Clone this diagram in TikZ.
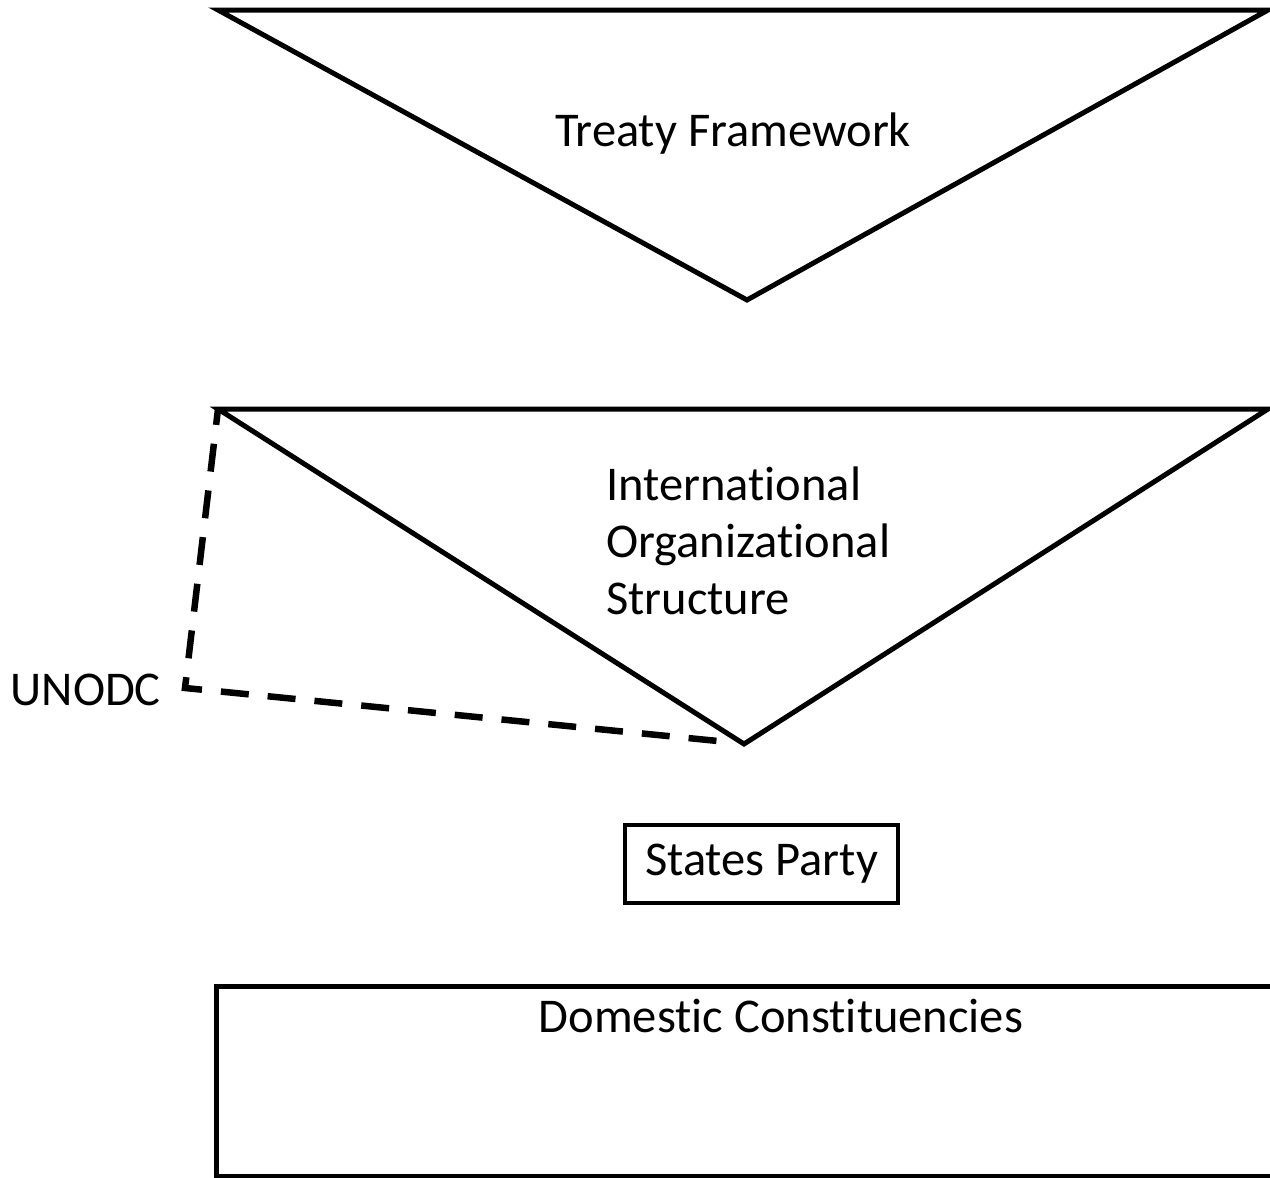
\documentclass[tikz,border=0pt]{standalone}
\usepackage{fontspec}
\setmainfont[Ligatures={NoCommon,NoRequired,NoContextual,NoRare,NoDiscretionary}]{Carlito}
\begin{document}
\begin{tikzpicture}[x=1pt,y=-1pt,
  shapeline/.style={draw=black,line width=5pt,line join=miter},
  dashline/.style={draw=black,line width=6.5pt,dash pattern=on 28pt off 19pt},
  label/.style={font=\fontsize{48.5}{57}\selectfont,inner sep=0pt}]
\useasboundingbox (0,0) rectangle (1270,1178);
\clip (0,0) rectangle (1270,1178);
% top triangle
\coordinate (t1l) at (218,10);
\coordinate (t1r) at (1268,10);
\coordinate (t1b) at (747,300);
\draw[shapeline] (t1l) -- (t1r) -- (t1b) -- cycle;
\node[label] (treaty) at (733,134) {Treaty Framework};
% second triangle
\coordinate (t2l) at (218,409);
\coordinate (t2r) at (1268,409);
\coordinate (t2b) at (744,744);
\draw[shapeline] (t2l) -- (t2r) -- (t2b) -- cycle;
\node[label,align=left,anchor=west] (ios) at (606,541) {Internat\kern0pt ional\\Organizat\kern0pt ional\\Structure};
% UNODC dashed bracket
\coordinate (uc) at (185,688);
\coordinate (ue) at (728,742);
\draw[dashline,dash phase=12pt] (t2l) -- (uc) -- (ue);
\node[label,anchor=east] (unodc) at (161,690) {UNODC};
% States Party
\node[label,draw=black,line width=4pt,minimum width=273pt,minimum height=78pt] (states) at (761.5,864) {States Party};
% Domestic Constituencies
\draw[shapeline] (216,986) rectangle (1300,1176);
\node[label] (dom) at (781,1016) {Domest\kern0pt ic Const\kern0pt it\kern0pt uencies};
\end{tikzpicture}
\end{document}
